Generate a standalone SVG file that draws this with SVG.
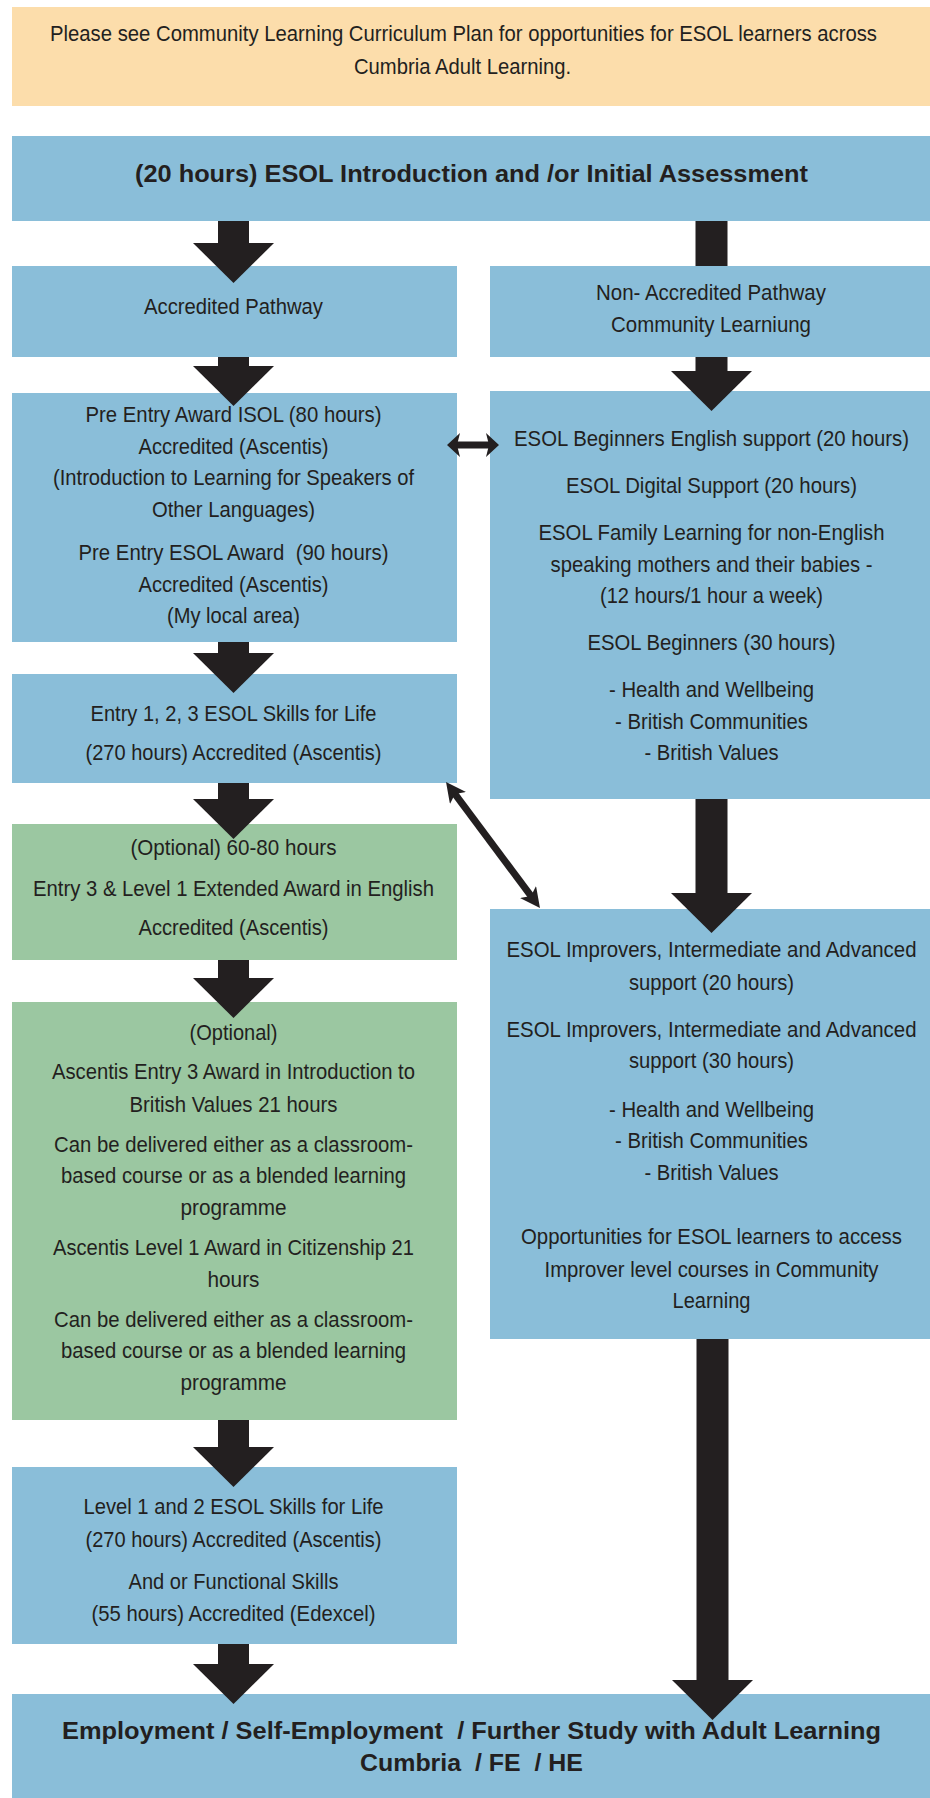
<svg xmlns="http://www.w3.org/2000/svg" xmlns:xlink="http://www.w3.org/1999/xlink" width="930" height="1798" viewBox="0 0 930 1798">
<style>
.peach{fill:#FCDDAB}
.blue{fill:#8ABED9}
.green{fill:#9BC7A1}
.t{font-family:"Liberation Sans",Arial,Helvetica,sans-serif;font-size:22px;fill:#231F20;text-anchor:middle}
.b{font-weight:bold}
.arr{fill:#231F20}
.ln{stroke:#231F20;stroke-width:7;fill:none}
</style>
<defs>
<path id="head" d="M-40.5,0 L40.5,0 L0,40 Z"/>
<marker id="barb" viewBox="0 0 20 20" refX="8" refY="10" markerWidth="20" markerHeight="20" markerUnits="userSpaceOnUse" orient="auto-start-reverse"><path d="M0,0 L20,10 L0,20 L5,10 Z" fill="#231F20"/></marker>
<marker id="barb2" viewBox="0 0 13 24" refX="5" refY="12" markerWidth="13" markerHeight="24" markerUnits="userSpaceOnUse" orient="auto-start-reverse"><path d="M0,0 L13,12 L0,24 L3,12 Z" fill="#231F20"/></marker>
</defs>

<g id="note">
<rect class="peach" x="12" y="7" width="918" height="99"/>
<text class="t" x="463.5" y="41" textLength="827" lengthAdjust="spacingAndGlyphs">Please see Community Learning Curriculum Plan for opportunities for ESOL learners across</text>
<text class="t" x="462.5" y="74" textLength="217" lengthAdjust="spacingAndGlyphs">Cumbria Adult Learning.</text>
</g>

<g id="intro">
<rect class="blue" x="12" y="136" width="918" height="85"/>
<text class="t b" x="471.5" y="182" style="font-size:24.5px" textLength="673" lengthAdjust="spacingAndGlyphs">(20 hours) ESOL Introduction and /or Initial Assessment</text>
</g>

<g id="accredited">
<rect class="blue" x="12" y="266" width="445" height="91"/>
<text class="t" x="233.5" y="314" textLength="179" lengthAdjust="spacingAndGlyphs">Accredited Pathway</text>
</g>

<g id="nonaccredited">
<rect class="blue" x="490" y="266" width="440" height="91"/>
<text class="t" x="711" y="300" textLength="230" lengthAdjust="spacingAndGlyphs">Non- Accredited Pathway</text>
<text class="t" x="711" y="332" textLength="200" lengthAdjust="spacingAndGlyphs">Community Learniung</text>
</g>

<g id="preentry">
<rect class="blue" x="12" y="393" width="445" height="249"/>
<text class="t" x="233.5" y="422" textLength="296" lengthAdjust="spacingAndGlyphs">Pre Entry Award ISOL (80 hours)</text>
<text class="t" x="233.5" y="454" textLength="190" lengthAdjust="spacingAndGlyphs">Accredited (Ascentis)</text>
<text class="t" x="233.5" y="485" textLength="361" lengthAdjust="spacingAndGlyphs">(Introduction to Learning for Speakers of</text>
<text class="t" x="233.5" y="517" textLength="163" lengthAdjust="spacingAndGlyphs">Other Languages)</text>
<text class="t" x="233.5" y="560" textLength="310" lengthAdjust="spacingAndGlyphs" xml:space="preserve">Pre Entry ESOL Award  (90 hours)</text>
<text class="t" x="233.5" y="592" textLength="190" lengthAdjust="spacingAndGlyphs">Accredited (Ascentis)</text>
<text class="t" x="233.5" y="623" textLength="133" lengthAdjust="spacingAndGlyphs">(My local area)</text>
</g>

<g id="beginners">
<rect class="blue" x="490" y="391" width="440" height="408"/>
<text class="t" x="711.5" y="446" textLength="395" lengthAdjust="spacingAndGlyphs">ESOL Beginners English support (20 hours)</text>
<text class="t" x="711.5" y="493" textLength="291" lengthAdjust="spacingAndGlyphs">ESOL Digital Support (20 hours)</text>
<text class="t" x="711.5" y="540" textLength="346" lengthAdjust="spacingAndGlyphs">ESOL Family Learning for non-English</text>
<text class="t" x="711.5" y="572" textLength="322" lengthAdjust="spacingAndGlyphs">speaking mothers and their babies -</text>
<text class="t" x="711.5" y="603" textLength="223" lengthAdjust="spacingAndGlyphs">(12 hours/1 hour a week)</text>
<text class="t" x="711.5" y="650" textLength="248" lengthAdjust="spacingAndGlyphs">ESOL Beginners (30 hours)</text>
<text class="t" x="711.5" y="697" textLength="205" lengthAdjust="spacingAndGlyphs">- Health and Wellbeing</text>
<text class="t" x="711.5" y="729" textLength="193" lengthAdjust="spacingAndGlyphs">- British Communities</text>
<text class="t" x="711.5" y="760" textLength="134" lengthAdjust="spacingAndGlyphs">- British Values</text>
</g>

<g id="entry">
<rect class="blue" x="12" y="674" width="445" height="109"/>
<text class="t" x="233.5" y="721" textLength="286" lengthAdjust="spacingAndGlyphs">Entry 1, 2, 3 ESOL Skills for Life</text>
<text class="t" x="233.5" y="760" textLength="296" lengthAdjust="spacingAndGlyphs">(270 hours) Accredited (Ascentis)</text>
</g>

<g id="extended">
<rect class="green" x="12" y="824" width="445" height="136"/>
<text class="t" x="233.5" y="855" textLength="206" lengthAdjust="spacingAndGlyphs">(Optional) 60-80 hours</text>
<text class="t" x="233.5" y="896" textLength="401" lengthAdjust="spacingAndGlyphs">Entry 3 &amp; Level 1 Extended Award in English</text>
<text class="t" x="233.5" y="935" textLength="190" lengthAdjust="spacingAndGlyphs">Accredited (Ascentis)</text>
</g>

<g id="values">
<rect class="green" x="12" y="1002" width="445" height="418"/>
<text class="t" x="233.5" y="1040" textLength="88" lengthAdjust="spacingAndGlyphs">(Optional)</text>
<text class="t" x="233.5" y="1079" textLength="363" lengthAdjust="spacingAndGlyphs">Ascentis Entry 3 Award in Introduction to</text>
<text class="t" x="233.5" y="1112" textLength="208" lengthAdjust="spacingAndGlyphs">British Values 21 hours</text>
<text class="t" x="233.5" y="1152" textLength="359" lengthAdjust="spacingAndGlyphs">Can be delivered either as a classroom-</text>
<text class="t" x="233.5" y="1183" textLength="345" lengthAdjust="spacingAndGlyphs">based course or as a blended learning</text>
<text class="t" x="233.5" y="1215" textLength="106" lengthAdjust="spacingAndGlyphs">programme</text>
<text class="t" x="233.5" y="1255" textLength="361" lengthAdjust="spacingAndGlyphs">Ascentis Level 1 Award in Citizenship 21</text>
<text class="t" x="233.5" y="1287" textLength="52" lengthAdjust="spacingAndGlyphs">hours</text>
<text class="t" x="233.5" y="1327" textLength="359" lengthAdjust="spacingAndGlyphs">Can be delivered either as a classroom-</text>
<text class="t" x="233.5" y="1358" textLength="345" lengthAdjust="spacingAndGlyphs">based course or as a blended learning</text>
<text class="t" x="233.5" y="1390" textLength="106" lengthAdjust="spacingAndGlyphs">programme</text>
</g>

<g id="improvers">
<rect class="blue" x="490" y="909" width="440" height="430"/>
<text class="t" x="711.5" y="957" textLength="410" lengthAdjust="spacingAndGlyphs">ESOL Improvers, Intermediate and Advanced</text>
<text class="t" x="711.5" y="990" textLength="165" lengthAdjust="spacingAndGlyphs">support (20 hours)</text>
<text class="t" x="711.5" y="1037" textLength="410" lengthAdjust="spacingAndGlyphs">ESOL Improvers, Intermediate and Advanced</text>
<text class="t" x="711.5" y="1068" textLength="165" lengthAdjust="spacingAndGlyphs">support (30 hours)</text>
<text class="t" x="711.5" y="1117" textLength="205" lengthAdjust="spacingAndGlyphs">- Health and Wellbeing</text>
<text class="t" x="711.5" y="1148" textLength="193" lengthAdjust="spacingAndGlyphs">- British Communities</text>
<text class="t" x="711.5" y="1180" textLength="134" lengthAdjust="spacingAndGlyphs">- British Values</text>
<text class="t" x="711.5" y="1244" textLength="381" lengthAdjust="spacingAndGlyphs">Opportunities for ESOL learners to access</text>
<text class="t" x="711.5" y="1277" textLength="334" lengthAdjust="spacingAndGlyphs">Improver level courses in Community</text>
<text class="t" x="711.5" y="1308" textLength="78" lengthAdjust="spacingAndGlyphs">Learning</text>
</g>

<g id="level12">
<rect class="blue" x="12" y="1467" width="445" height="177"/>
<text class="t" x="233.5" y="1514" textLength="300" lengthAdjust="spacingAndGlyphs">Level 1 and 2 ESOL Skills for Life</text>
<text class="t" x="233.5" y="1547" textLength="296" lengthAdjust="spacingAndGlyphs">(270 hours) Accredited (Ascentis)</text>
<text class="t" x="233.5" y="1589" textLength="210" lengthAdjust="spacingAndGlyphs">And or Functional Skills</text>
<text class="t" x="233.5" y="1621" textLength="284" lengthAdjust="spacingAndGlyphs">(55 hours) Accredited (Edexcel)</text>
</g>

<g id="outcome">
<rect class="blue" x="12" y="1694" width="918" height="104"/>
<text class="t b" x="471.5" y="1739" style="font-size:23px" textLength="819" lengthAdjust="spacingAndGlyphs" xml:space="preserve">Employment / Self-Employment  / Further Study with Adult Learning</text>
<text class="t b" x="471.5" y="1771" style="font-size:23px" textLength="223" lengthAdjust="spacingAndGlyphs" xml:space="preserve">Cumbria  / FE  / HE</text>
</g>

<g id="connectors">
<rect class="arr" x="218" y="221" width="31" height="23"/><use href="#head" class="arr" x="233.5" y="243"/>
<rect class="arr" x="218" y="357" width="31" height="10"/><use href="#head" class="arr" x="233.5" y="366"/>
<rect class="arr" x="218" y="642" width="31" height="12"/><use href="#head" class="arr" x="233.5" y="653"/>
<rect class="arr" x="218" y="783" width="31" height="17"/><use href="#head" class="arr" x="233.5" y="799"/>
<rect class="arr" x="218" y="960" width="31" height="19"/><use href="#head" class="arr" x="233.5" y="978"/>
<rect class="arr" x="218" y="1420" width="31" height="28"/><use href="#head" class="arr" x="233.5" y="1447"/>
<rect class="arr" x="218" y="1644" width="31" height="21"/><use href="#head" class="arr" x="233.5" y="1664"/>
<rect class="arr" x="695.5" y="221" width="32" height="45"/>
<rect class="arr" x="695.5" y="357" width="32" height="15"/><use href="#head" class="arr" x="711.5" y="371"/>
<rect class="arr" x="695.5" y="799" width="32" height="95"/><use href="#head" class="arr" x="711.5" y="893"/>
<rect class="arr" x="696.5" y="1339" width="32" height="342"/><use href="#head" class="arr" x="712.5" y="1680"/>
<line class="ln" x1="455" y1="445" x2="491" y2="445" marker-start="url(#barb2)" marker-end="url(#barb2)"/>
<line class="ln" x1="453.2" y1="791.6" x2="532.8" y2="898.4" marker-start="url(#barb)" marker-end="url(#barb)"/>
</g>
</svg>
